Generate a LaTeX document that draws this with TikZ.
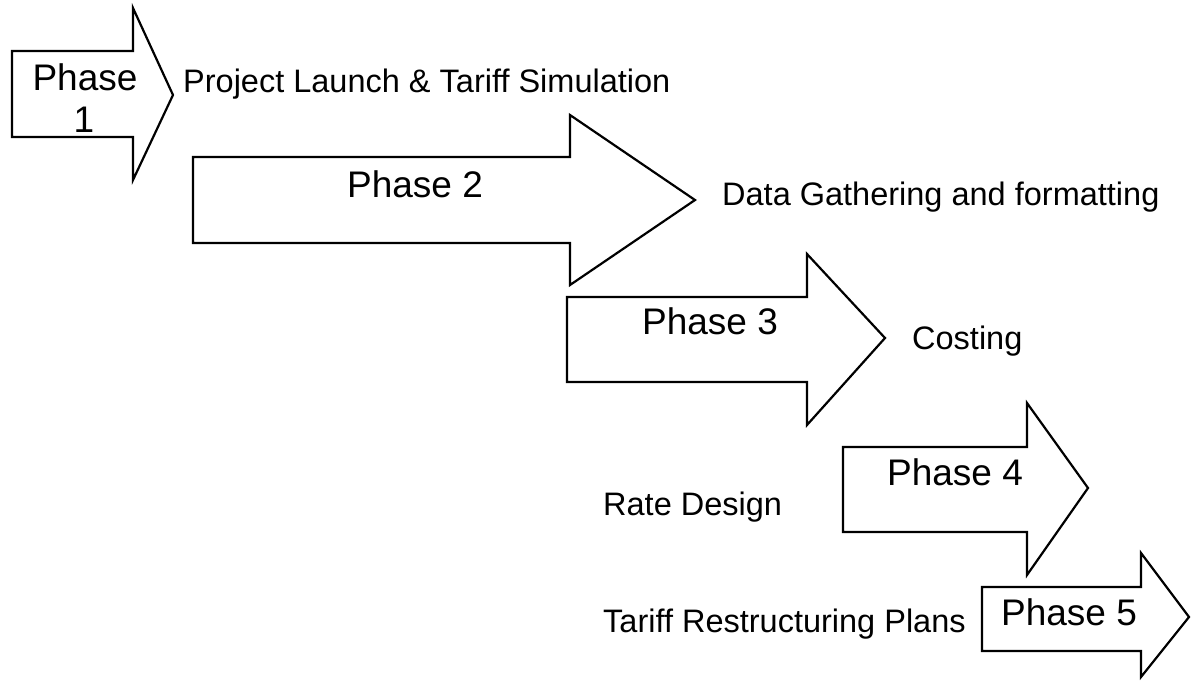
\documentclass[tikz,border=0pt]{standalone}
\usepackage{fontspec}
\setmainfont{Liberation Sans}
\begin{document}
\begin{tikzpicture}[x=1pt,y=-1pt,
  arrowshape/.style={draw=black,line width=2.2pt,line join=miter,fill=white},
  phasetext/.style={font=\fontsize{37}{42}\selectfont,inner sep=0pt,anchor=base},
  labeltext/.style={font=\fontsize{32.5}{38}\selectfont,inner sep=0pt,anchor=base west}]
\useasboundingbox[fill=white] (0,0) rectangle (1191,681);
% arrow 1
\draw[arrowshape] (12,51) -- (133,51) -- (133,8) -- (173,95) -- (133,180) -- (133,137) -- (12,137) -- cycle;
% arrow 2
\draw[arrowshape] (193,157) -- (570,157) -- (570,115) -- (695,200) -- (570,285) -- (570,243) -- (193,243) -- cycle;
% arrow 3
\draw[arrowshape] (567,297) -- (807,297) -- (807,254) -- (885,338) -- (807,425) -- (807,382) -- (567,382) -- cycle;
% arrow 4
\draw[arrowshape] (843,447) -- (1027,447) -- (1027,403) -- (1088,488) -- (1027,575) -- (1027,532) -- (843,532) -- cycle;
% arrow 5
\draw[arrowshape] (982,587) -- (1141,587) -- (1141,553) -- (1189,617) -- (1141,677) -- (1141,651) -- (982,651) -- cycle;
% phase texts
\node[phasetext] (p1a) at (85,90) {Phase};
\node[phasetext] (p1b) at (84,132) {1};
\node[phasetext] (p2) at (415,197) {Phase 2};
\node[phasetext] (p3) at (710,334) {Phase 3};
\node[phasetext] (p4) at (955,485) {Phase 4};
\node[phasetext] (p5) at (1069,625) {Phase 5};
% labels
\node[labeltext] (l1) at (183,92) {Project Launch \& Tariff Simulation};
\node[labeltext] (l2) at (722,205) {Data Gathering and formatting};
\node[labeltext] (l3) at (912,349) {Costing};
\node[labeltext] (l4) at (603,515) {Rate Design};
\node[labeltext] (l5) at (603,632) {Tariff Restructuring Plans};
\end{tikzpicture}
\end{document}
